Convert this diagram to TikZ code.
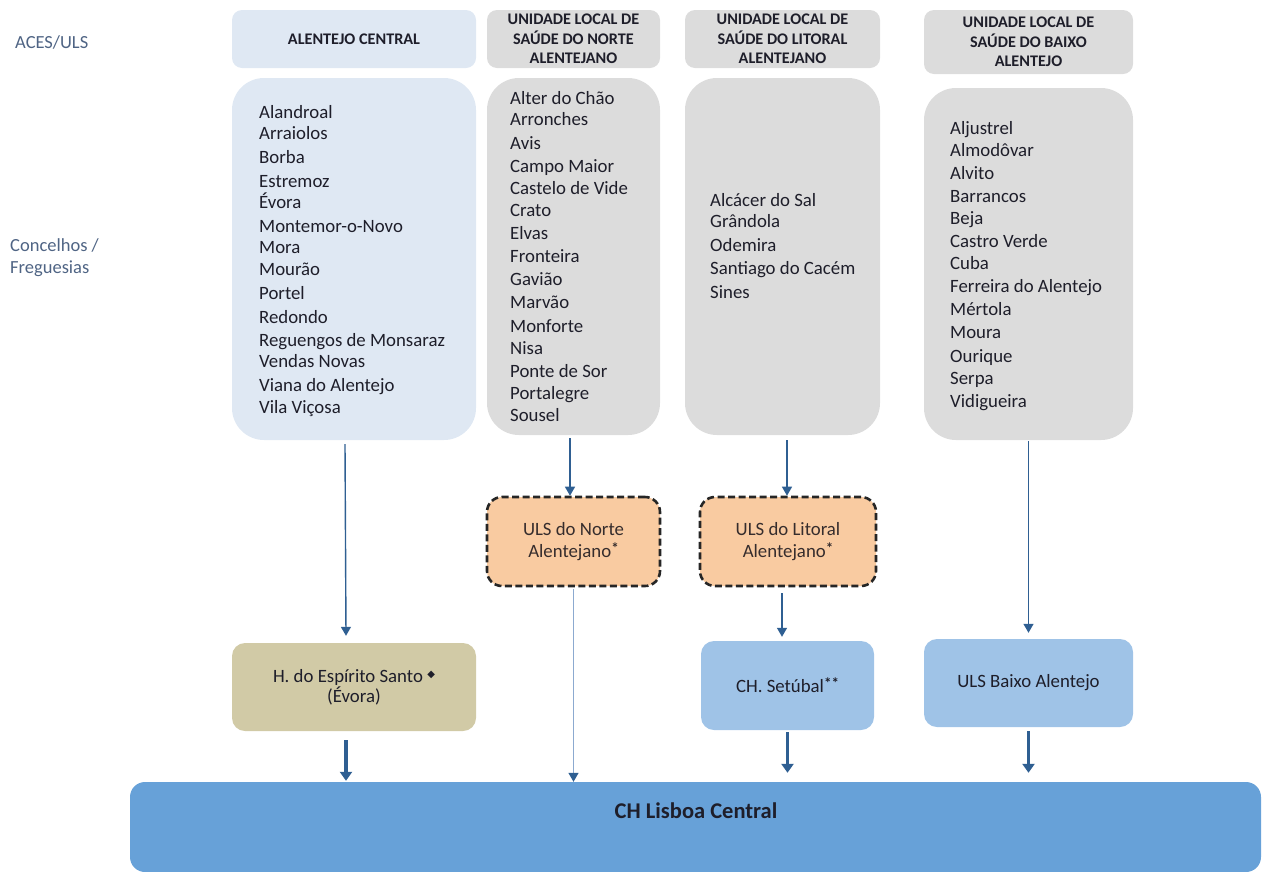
\documentclass[tikz,border=0pt]{standalone}
\usepackage{fontspec}
\setmainfont{Carlito}
\newfontfamily\djv{DejaVu Sans}
\usetikzlibrary{arrows.meta}
\definecolor{lightbluebox}{HTML}{DFE8F3}
\definecolor{graybox}{HTML}{DCDCDC}
\definecolor{orangebox}{HTML}{F9CBA1}
\definecolor{tanbox}{HTML}{D1CAA6}
\definecolor{midblue}{HTML}{9FC3E7}
\definecolor{bigblue}{HTML}{67A1D8}
\definecolor{arrowdark}{HTML}{2F5F92}
\definecolor{arrowlight}{HTML}{8CAAD0}
\definecolor{labelgray}{HTML}{4F6484}
\definecolor{textdark}{HTML}{1E1E2A}
\tikzset{
  hdr/.style={rounded corners=10pt, minimum width=#1, inner sep=0pt, align=center,
    font=\bfseries\fontsize{16.2}{19.5}\selectfont, text=textdark},
  contentbox/.style={rounded corners=32pt, inner sep=0pt},
  item/.style={anchor=base west, inner sep=0pt, font=\fontsize{18.8}{21}\selectfont, text=textdark},
  dashbox/.style={draw=black!85, line width=2.6pt, dash pattern=on 7pt off 3.5pt, fill=orangebox,
    rounded corners=15pt, minimum width=#1, minimum height=89pt, inner sep=0pt, align=center,
    font=\fontsize{18.8}{22}\selectfont, text=textdark!85!brown},
  lowbox/.style={rounded corners=13pt, minimum width=#1, minimum height=88pt, inner sep=0pt, align=center,
    font=\fontsize{18.8}{22}\selectfont, text=textdark},
  thinarrow/.style={draw=arrowdark, line width=1.4pt, -{Triangle[width=10pt,length=9pt]}},
  lightarrow/.style={draw=arrowlight, line width=1.4pt, -{Triangle[width=10pt,length=9pt,color=arrowdark]}},
  thickarrow/.style={draw=arrowdark, line width=3.8pt, -{Triangle[width=12pt,length=9pt]}},
  sidelabel/.style={anchor=base west, inner sep=0pt, align=left, text=labelgray,
    font=\fontsize{18.5}{22}\selectfont},
}
\newcommand{\starmark}{\raisebox{4pt}{\bfseries\fontsize{15}{15}\selectfont *}}
\begin{document}
\begin{tikzpicture}[x=1pt, y=-1pt]
\useasboundingbox (0,0) rectangle (1269,871);

% side labels
\node[sidelabel] (lab1) at (15,48) {ACES/ULS};
\node[sidelabel] (lab2) at (10,251) {Concelhos /};
\node[sidelabel] (lab3) at (10,273) {Freguesias};

% header boxes
\node[hdr=244pt, fill=lightbluebox, minimum height=58pt] (h1) at (354,39) {ALENTEJO CENTRAL};
\node[hdr=173pt, fill=graybox, minimum height=58pt] (h2) at (573.5,39) {UNIDADE LOCAL DE\\SAÚDE DO NORTE\\ALENTEJANO};
\node[hdr=195pt, fill=graybox, minimum height=58pt] (h3) at (782.5,39) {UNIDADE LOCAL DE\\SAÚDE DO LITORAL\\ALENTEJANO};
\node[hdr=209pt, fill=graybox, minimum height=64pt] (h4) at (1028.5,42) {UNIDADE LOCAL DE\\SAÚDE DO BAIXO\\ALENTEJO};

% content boxes
\node[contentbox, fill=lightbluebox, minimum width=244pt, minimum height=362pt] (c1) at (354,259) {};
\node[contentbox, fill=graybox, minimum width=173pt, minimum height=357pt] (c2) at (573.5,256.5) {};
\node[contentbox, fill=graybox, minimum width=195pt, minimum height=357pt] (c3) at (782.5,256.5) {};
\node[contentbox, fill=graybox, minimum width=209pt, minimum height=352pt] (c4) at (1028.5,264) {};

\foreach \t/\yy [count=\i] in {Alandroal/118, Arraiolos/139, Borba/163, Estremoz/187, Évora/208,
  Montemor-o-Novo/232, Mora/253, Mourão/275, Portel/299, Redondo/323, Reguengos de Monsaraz/346,
  Vendas Novas/367, Viana do Alentejo/391, Vila Viçosa/413}
  \node[item] (ca\i) at (259,\yy) {\t};

\foreach \t/\yy [count=\i] in {Alter do Chão/104, Arronches/125, Avis/149, Campo Maior/172,
  Castelo de  Vide/194, Crato/216, Elvas/239, Fronteira/262, Gavião/285, Marvão/308, Monforte/332,
  Nisa/354, Ponte de  Sor/377, Portalegre/399, Sousel/421}
  \node[item] (cb\i) at (510,\yy) {\t};

\foreach \t/\yy [count=\i] in {Alcácer do Sal/206, Grândola/227, Odemira/251, Santiago do Cacém/274, Sines/298}
  \node[item] (cc\i) at (710,\yy) {\t};

\foreach \t/\yy [count=\i] in {Aljustrel/134, Almodôvar/156, Alvito/179, Barrancos/202, Beja/224,
  Castro Verde/247, Cuba/269, Ferreira do Alentejo/292, Mértola/315, Moura/338, Ourique/362,
  Serpa/384, Vidigueira/407}
  \node[item] (cd\i) at (950,\yy) {\t};

% middle dashed boxes
\node[dashbox=173pt] (n2) at (573.5,541.5) {ULS do Norte\\Alentejano\starmark};
\node[dashbox=176pt] (n3) at (788,541.5) {ULS do Litoral\\Alentejano\starmark};

% lower boxes
\node[lowbox=244pt, fill=tanbox] (he) at (354,687) {H. do Espírito Santo \raisebox{5pt}{\djv\fontsize{10}{10}\selectfont ◆}\\[-2pt](Évora)};
\node[lowbox=173pt, fill=midblue, minimum height=89pt] (cs) at (787.5,685.5) {CH. Setúbal\starmark\starmark};
\node[lowbox=209pt, fill=midblue] (ub) at (1028.5,683) {ULS Baixo Alentejo};

% bottom box
\node[rounded corners=15pt, fill=bigblue, minimum width=1131pt, minimum height=90pt, inner sep=0pt] (lis) at (695.5,827) {};
\node[font=\bfseries\fontsize{22.5}{24}\selectfont, text=textdark, inner sep=0pt] (listxt) at (696,811) {CH Lisboa Central};

% connectors
\draw[thinarrow] ([xshift=-9pt,yshift=-4pt]c1.south) -- ([xshift=-8pt,yshift=7pt]he.north);
\draw[thinarrow] ([xshift=-3.5pt,yshift=-3pt]c2.south) -- ([xshift=-3.5pt]n2.north);
\draw[thinarrow] ([xshift=4.5pt,yshift=-5pt]c3.south) -- ([xshift=-1pt]n3.north);
\draw[thinarrow] ([yshift=-1pt]c4.south) -- ([yshift=6pt]ub.north);
\draw[thinarrow] ([xshift=-6pt,yshift=-6pt]n3.south) -- ([xshift=-5.5pt,yshift=4pt]cs.north);
\draw[lightarrow] ([yshift=-2pt]n2.south) -- (lis.north -| n2.south);
\draw[thickarrow] ([xshift=-8pt,yshift=-9pt]he.south) -- ([xshift=-8pt,yshift=1pt]lis.north -| he.south);
\draw[thickarrow] ([yshift=-2pt]cs.south) -- ([yshift=9pt]lis.north -| cs.south);
\draw[thickarrow] ([yshift=-4pt]ub.south) -- ([yshift=9pt]lis.north -| ub.south);
\end{tikzpicture}
\end{document}
